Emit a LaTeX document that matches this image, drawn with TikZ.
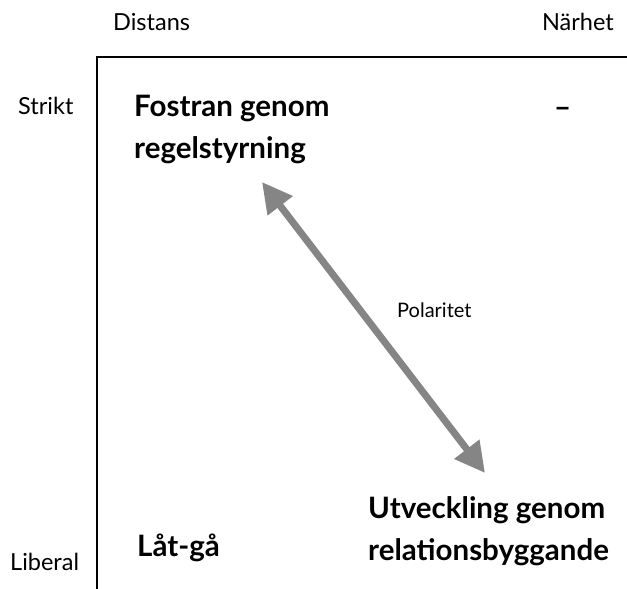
\documentclass[tikz,border=0pt]{standalone}
\usepackage{fontspec}
\setmainfont{Lato}
\usetikzlibrary{arrows.meta}
\definecolor{arrowgray}{HTML}{858585}
\begin{document}
\begin{tikzpicture}[x=1pt,y=-1pt,
  axislabel/.style={font=\fontsize{23.5}{27}\selectfont, inner sep=0pt},
  quadlabel/.style={font=\fontsize{29.5}{42}\selectfont\bfseries, inner sep=0pt, align=left, anchor=west},
  axis/.style={line width=2.6pt},
  polarrow/.style={draw=arrowgray, line width=7pt, {Triangle[length=30pt,width=30pt]}-{Triangle[length=30pt,width=30pt]}, shorten <=0pt, shorten >=0pt}
]
\useasboundingbox (0,0) rectangle (627,589);
\coordinate (origin) at (97,57);
\coordinate (xend) at (627,57);
\coordinate (yend) at (97,589);
\draw[axis] (xend) -- (origin) -- (yend);

\node[axislabel, anchor=west] (distans) at (113,22) {Distans};
\node[axislabel, anchor=east] (narhet) at (614,22) {Närhet};
\node[axislabel, anchor=west] (strikt) at (18,106) {Strikt};
\node[axislabel, anchor=west] (liberal) at (10,562) {Liberal};

\node[quadlabel] (fostran) at (134,129) {Fostran genom\\regelstyrning};
\node[quadlabel] (dash) at (554,112) {–};
\node[quadlabel] (latga) at (137,548) {Låt-gå};
\node[quadlabel] (utveckling) at (368,531) {Utveckling genom\\relationsbyggande};

\coordinate (tipA) at (262,182);
\coordinate (tipB) at (485,473);
\draw[polarrow] (tipA) -- (tipB);
\node[axislabel, font=\fontsize{20}{24}\selectfont, anchor=west] (polaritet) at (397,310) {Polaritet};
\end{tikzpicture}
\end{document}
